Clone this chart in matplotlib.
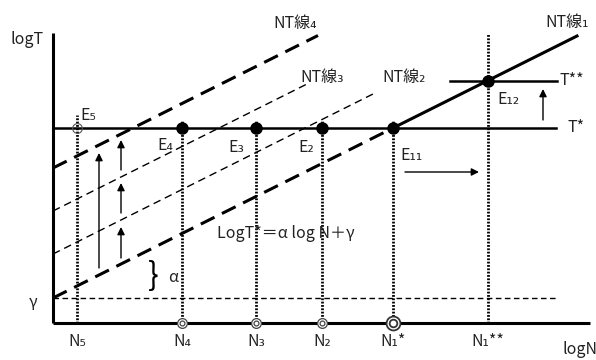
import numpy as np
import matplotlib
matplotlib.use('Agg')
import matplotlib.pyplot as plt

plt.rcParams['font.family'] = ['Noto Sans CJK JP', 'DejaVu Sans']
plt.rcParams['lines.scale_dashes'] = False

# ---- data (logN, logT in drawing units) ----
alpha = 0.5                      # slope of NT lines
gamma = 25                       # intercept of NT line 1
T_star = 195
T_2star = 242.5
nt_names = ['NT線₁', 'NT線₂', 'NT線₃', 'NT線₄']
nt_intercepts = [gamma, 69, 112, 155]
nt_ends = [524, 324, 254, 265]
N_labels = ['N₅', 'N₄', 'N₃', 'N₂', 'N₁*', 'N₁**']
N_pos = [24, 129, 203, 269, 340, 435]
N_tops = [208, 203, 203, 203, 203, 290]
E_labels = ['E₅', 'E₄', 'E₃', 'E₂', 'E₁₁']
E_pos = [24, 129, 203, 269, 340]

fig = plt.figure(figsize=(5.96, 3.6), dpi=100)
ax = fig.add_axes([0, 0, 1, 1])
ax.set_xlim(-53, 543)
ax.set_ylim(-37, 323)
ax.axis('off')

fs = 11.5
k = 'black'
tc = '#222222'

# axes
ax.plot([0, 0], [0, 290], color=k, lw=2.2, solid_capstyle='butt')
ax.plot([0, 537], [0, 0], color=k, lw=2.2, solid_capstyle='butt')
ax.text(-9, 283, 'logT', fontsize=fs, color=tc, ha='right', va='center')
ax.text(509, -27, 'logN', fontsize=fs, color=tc, ha='left', va='center')
ax.text(-16, 21, 'γ', fontsize=fs, color=tc, ha='right', va='center')

# gamma dashed line
ax.plot([0, 504], [gamma, gamma], color=k, lw=1.0, dashes=(4, 2.5))

# vertical dotted lines
for x, top in zip(N_pos, N_tops):
    ax.plot([x, x], [0, top], color=k, lw=2.0, dashes=(1.3, 1.1))
for x, lab in zip(N_pos, N_labels):
    ax.text(x, -19, lab, fontsize=fs, color=tc, ha='center', va='center')
for x in N_pos[1:4]:
    ax.plot(x, 0, 'o', ms=7, mfc='white', mec='#444444', mew=0.9)
    ax.plot(x, 0, 'o', ms=3.5, mfc='white', mec='#444444', mew=0.9)
ax.plot(N_pos[4], 0, 'o', ms=10, mfc='white', mec='#333333', mew=1.3)
ax.plot(N_pos[4], 0, 'o', ms=5.5, mfc='white', mec='#333333', mew=1.3)

# NT lines
x1 = np.array([0, N_pos[4]])
ax.plot(x1, nt_intercepts[0] + alpha * x1, color=k, lw=2.2, dashes=(11, 6))
x1b = np.array([N_pos[4], nt_ends[0]])
ax.plot(x1b, nt_intercepts[0] + alpha * x1b, color=k, lw=2.2)
for i in (1, 2):
    xs = np.array([0, nt_ends[i]])
    ax.plot(xs, nt_intercepts[i] + alpha * xs, color=k, lw=1.0, dashes=(5.5, 3.5))
xs = np.array([0, nt_ends[3]])
ax.plot(xs, nt_intercepts[3] + alpha * xs, color=k, lw=2.2, dashes=(11, 6))

# T*, T** lines
ax.plot([0, 503], [T_star, T_star], color=k, lw=1.8)
ax.plot([397, 504], [T_2star, T_2star], color=k, lw=1.8)
ax.text(514, T_star, 'T*', fontsize=fs, color=tc, ha='left', va='center')
ax.text(507, T_2star, 'T**', fontsize=fs, color=tc, ha='left', va='center')

# equilibrium points
ax.plot(E_pos[0], T_star, 'o', ms=7, mfc='none', mec='#555555', mew=0.8)
for x in E_pos[1:]:
    ax.plot(x, T_star, 'o', ms=8, color=k)
ax.plot(N_pos[5], T_2star, 'o', ms=8, color=k)

e_text_xy = [(27, 208), (104, 178), (175, 176), (245, 176), (347, 168)]
for lab, (tx, ty) in zip(E_labels, e_text_xy):
    ax.text(tx, ty, lab, fontsize=fs, color=tc, ha='left', va='center')
ax.text(444, 223, 'E₁₂', fontsize=fs, color=tc, ha='left', va='center')

# NT line labels
ax.text(220, 300, nt_names[3], fontsize=fs, color=tc, ha='left', va='center')
ax.text(247, 246, nt_names[2], fontsize=fs, color=tc, ha='left', va='center')
ax.text(329, 246, nt_names[1], fontsize=fs, color=tc, ha='left', va='center')
ax.text(492, 301, nt_names[0], fontsize=fs, color=tc, ha='left', va='center')

# arrows
ap = dict(arrowstyle='-|>', lw=1.0, color=k, mutation_scale=11, shrinkA=0, shrinkB=0)
ax.annotate('', xy=(46, 170), xytext=(46, 55), arrowprops=ap)
for tail, head in [(65, 96), (110, 140), (153, 183)]:
    ax.annotate('', xy=(68, head), xytext=(68, tail), arrowprops=ap)
ax.annotate('', xy=(426, 151), xytext=(352, 151), arrowprops=ap)
ax.annotate('', xy=(490, 234), xytext=(490, 203), arrowprops=ap)

# alpha brace
ax.text(95, 47, '}', fontsize=23, color=k, ha='left', va='center')
ax.text(115, 46, 'α', fontsize=fs, color=tc, ha='left', va='center')

# equation
ax.text(164, 90, 'LogT*＝α log N＋γ', fontsize=fs, color=tc, ha='left', va='center')

fig.savefig('out.png', dpi=100)
